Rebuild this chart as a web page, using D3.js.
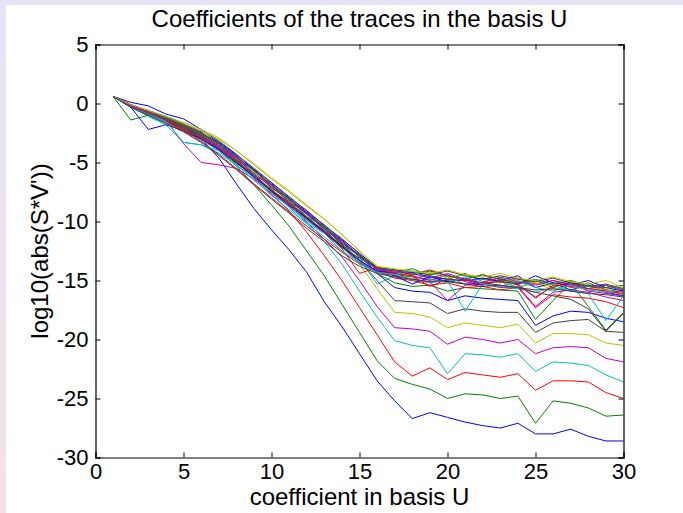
<!DOCTYPE html>
<html><head><meta charset="utf-8">
<script src="https://cdn.jsdelivr.net/npm/d3@7"></script>
<style>
html,body{margin:0;padding:0;background:#fff;}
svg{display:block;}
text{font-family:"Liberation Sans",Arial,Helvetica,sans-serif;fill:#000;}
</style></head><body>
<svg id="chart" width="683" height="513"></svg>
<script>
// ---- data ----
const title = "Coefficients of the traces in the basis U";
const xLabel = "coefficient in basis U";
const yLabel = "log10(abs(S*V'))";
const coefIndex = d3.range(1, 31);
const xTicks = [0, 5, 10, 15, 20, 25, 30];
const yTicks = [5, 0, -5, -10, -15, -20, -25, -30];
const colorOrder = ["#0000ff", "#008000", "#ff0000", "#00bfbf", "#bf00bf", "#bfbf00", "#404040"];

const t01 = [0.6,-0.2,-0.8,-1.4,-2.1,-3.0,-4.6,-6.8,-8.9,-10.7,-12.4,-14.3,-16.8,-18.9,-21.2,-23.5,-25.2,-26.7,-26.2,-26.6,-27.0,-27.3,-27.5,-27.1,-28.0,-28.0,-27.6,-28.2,-28.6,-28.6];
const t02 = [0.6,-0.2,-0.8,-1.4,-2.0,-2.8,-3.9,-5.3,-6.9,-8.6,-10.4,-12.5,-14.6,-17.0,-19.4,-21.8,-23.3,-23.8,-24.2,-25.0,-24.6,-24.7,-25.0,-24.8,-27.1,-25.2,-25.4,-25.8,-26.5,-26.4];
const t03 = [0.6,-0.1,-0.7,-1.2,-1.9,-2.7,-3.7,-4.9,-6.3,-7.7,-9.1,-10.9,-12.9,-15.0,-17.3,-19.6,-21.9,-23.1,-22.4,-23.4,-22.8,-23.0,-23.2,-22.9,-24.3,-23.5,-23.5,-23.6,-24.5,-25.0];
const t04 = [0.6,-0.3,-0.9,-1.6,-2.2,-2.8,-3.6,-4.8,-6.0,-7.4,-8.8,-10.2,-11.7,-13.6,-15.9,-18.1,-20.1,-20.5,-20.7,-22.9,-21.2,-21.3,-21.5,-21.2,-22.7,-21.9,-22.0,-22.2,-23.0,-23.6];
const t05 = [0.6,-0.1,-0.7,-1.3,-2.0,-2.7,-3.7,-4.8,-6.1,-7.4,-8.7,-10.0,-11.5,-13.0,-15.0,-17.2,-19.0,-19.1,-19.3,-20.4,-19.8,-20.0,-20.3,-20.0,-21.2,-20.7,-20.6,-20.7,-21.6,-21.9];
const t06 = [0.6,-0.2,-0.8,-1.3,-1.9,-2.6,-3.5,-4.6,-5.8,-7.1,-8.3,-9.6,-10.8,-12.1,-13.6,-15.7,-17.7,-17.8,-18.1,-19.0,-18.6,-18.8,-19.0,-18.7,-20.3,-19.5,-19.5,-19.6,-20.3,-20.5];
const t07 = [0.6,-0.2,-0.7,-1.2,-1.8,-2.5,-3.4,-4.5,-5.7,-6.9,-8.1,-9.3,-10.6,-11.9,-13.3,-15.0,-16.7,-16.8,-16.9,-17.8,-17.4,-17.6,-17.7,-17.7,-19.4,-18.6,-18.4,-18.3,-19.3,-19.4];
const t08 = [0.6,-0.1,-0.6,-1.1,-1.7,-2.4,-3.3,-4.4,-5.6,-6.8,-8.0,-9.2,-10.4,-11.6,-12.9,-14.4,-15.6,-15.9,-16.0,-16.7,-16.3,-16.5,-16.6,-16.7,-18.8,-18.0,-17.6,-17.7,-18.2,-18.5];
const t09 = [0.6,-0.2,-0.9,-1.5,-2.1,-2.9,-3.8,-4.9,-6.1,-7.3,-8.4,-9.6,-10.8,-12.0,-13.2,-14.4,-15.2,-15.5,-15.4,-15.9,-15.6,-15.7,-15.8,-15.9,-18.3,-16.7,-15.2,-17.2,-19.2,-17.7];
const t10 = [0.6,-0.3,-1.0,-1.6,-2.3,-3.0,-3.9,-5.0,-6.2,-7.4,-8.5,-9.7,-10.9,-12.1,-13.5,-14.2,-14.8,-15.0,-15.4,-15.2,-15.6,-15.5,-15.8,-15.6,-17.3,-16.2,-16.4,-16.5,-16.8,-17.3];
const t11 = [0.6,-0.3,-1.1,-1.8,-3.3,-3.5,-4.2,-5.2,-6.3,-7.5,-8.7,-9.9,-11.0,-12.2,-13.2,-15.3,-14.6,-14.9,-15.2,-15.0,-17.6,-15.3,-15.5,-15.7,-16.0,-15.6,-15.9,-16.1,-18.4,-16.3];
const t12 = [0.6,-0.2,-0.8,-1.4,-3.4,-5.0,-5.2,-5.5,-6.4,-7.6,-8.7,-9.8,-11.0,-12.2,-13.4,-14.3,-14.6,-14.9,-15.1,-16.7,-15.4,-15.3,-15.6,-15.5,-17.2,-16.0,-15.8,-16.0,-16.4,-16.7];
const t13 = [0.6,-0.1,-0.7,-1.2,-1.8,-2.5,-3.1,-4.3,-5.8,-6.7,-8.1,-9.0,-10.5,-11.4,-12.8,-13.9,-14.4,-14.9,-14.5,-15.2,-14.8,-15.3,-14.9,-15.6,-15.2,-15.8,-15.3,-15.9,-15.7,-16.2];
const t14 = [0.6,-0.2,-0.9,-1.4,-2.0,-2.7,-3.6,-4.7,-5.9,-7.1,-8.2,-9.4,-10.6,-11.8,-13.0,-14.1,-14.5,-14.7,-14.9,-15.1,-15.3,-15.2,-15.4,-15.6,-16.0,-16.3,-16.6,-17.4,-19.3,-17.8];
const t15 = [0.6,0.1,-0.2,-0.9,-1.3,-2.2,-3.2,-4.3,-5.5,-6.7,-7.9,-9.1,-10.3,-11.5,-12.7,-13.9,-14.6,-15.3,-14.7,-15.1,-14.9,-15.4,-15.0,-14.6,-15.6,-15.2,-15.8,-15.4,-16.0,-16.3];
const t16 = [0.6,-1.4,-1.0,-1.5,-2.1,-2.8,-3.9,-5.1,-6.0,-7.5,-8.3,-9.8,-10.7,-12.2,-13.1,-14.0,-14.3,-14.0,-14.6,-14.9,-14.4,-15.1,-14.8,-15.3,-15.0,-15.6,-15.1,-15.7,-15.4,-15.9];
const t17 = [0.6,-0.2,-0.9,-1.5,-2.2,-2.9,-3.8,-4.9,-6.1,-7.3,-8.5,-9.7,-10.9,-12.3,-14.4,-13.9,-14.2,-14.5,-14.1,-14.6,-14.9,-14.5,-15.2,-14.8,-15.3,-15.0,-15.6,-15.2,-15.8,-16.0];
const t18 = [0.6,-0.3,-1.0,-1.6,-2.3,-3.1,-4.0,-5.3,-6.1,-7.8,-8.6,-10.1,-11.0,-12.5,-13.4,-14.2,-14.5,-14.9,-14.4,-14.7,-15.3,-14.8,-15.1,-15.6,-15.0,-15.4,-15.9,-15.3,-15.9,-16.2];
const t19 = [0.6,-0.1,-0.8,-1.3,-1.9,-2.6,-3.5,-4.6,-5.6,-7.0,-8.0,-9.4,-10.4,-11.8,-12.8,-14.1,-14.3,-14.6,-15.0,-14.5,-15.1,-15.4,-14.9,-15.4,-16.4,-15.5,-15.2,-15.9,-16.1,-16.3];
const t20 = [0.6,-0.2,-0.7,-1.2,-1.7,-2.3,-3.0,-4.0,-5.2,-6.4,-7.5,-8.7,-9.8,-11.1,-12.5,-13.8,-14.2,-14.6,-14.3,-14.8,-14.5,-14.9,-15.2,-14.8,-15.2,-15.5,-15.0,-15.5,-15.9,-15.6];
const t21 = [0.6,-0.1,-0.7,-1.2,-1.8,-2.5,-3.4,-4.5,-5.7,-6.9,-8.1,-9.3,-10.5,-11.7,-12.9,-13.9,-14.1,-14.3,-14.5,-14.2,-14.6,-14.9,-14.6,-14.9,-15.1,-14.8,-15.2,-15.5,-15.3,-15.7];
const t22 = [0.6,-0.3,-2.2,-1.8,-2.3,-3.0,-3.9,-5.0,-6.2,-7.4,-8.6,-9.7,-10.9,-12.1,-13.3,-14.2,-14.4,-14.3,-14.7,-14.9,-15.0,-14.8,-15.1,-15.3,-14.6,-15.2,-15.4,-15.0,-15.6,-15.9];
const t23 = [0.6,-0.2,-0.8,-1.3,-1.9,-2.6,-3.3,-4.8,-5.6,-7.2,-8.0,-9.6,-10.4,-12.0,-12.8,-14.0,-14.1,-14.5,-14.2,-14.6,-14.9,-14.5,-14.9,-15.2,-14.9,-15.3,-15.0,-15.5,-15.6,-15.4];
const t24 = [0.6,-0.1,-0.8,-1.5,-2.3,-3.2,-4.3,-5.5,-6.8,-8.0,-9.2,-10.4,-11.5,-12.6,-13.6,-14.3,-14.4,-14.6,-15.5,-14.9,-15.0,-15.2,-15.1,-15.3,-16.5,-15.4,-15.5,-15.7,-15.9,-16.1];
const t25 = [0.6,-0.2,-0.9,-1.5,-3.3,-3.5,-4.0,-5.2,-6.5,-7.8,-9.0,-10.2,-11.3,-12.5,-13.6,-14.3,-14.5,-14.2,-14.9,-15.2,-14.7,-15.3,-15.5,-15.0,-15.6,-15.9,-15.4,-15.8,-16.0,-15.7];
const t26 = [0.6,-0.2,-0.8,-1.4,-2.0,-2.7,-3.8,-4.5,-6.1,-6.9,-8.4,-9.2,-10.8,-11.6,-13.0,-14.0,-14.2,-14.4,-14.8,-14.4,-14.9,-15.2,-14.7,-15.1,-15.4,-15.0,-15.3,-15.7,-15.4,-15.8];
const t27 = [0.6,-0.1,-0.6,-1.1,-1.6,-2.2,-2.9,-4.0,-5.1,-6.3,-7.4,-8.6,-9.8,-11.1,-12.5,-13.8,-14.0,-14.2,-14.4,-14.1,-14.5,-14.7,-14.4,-14.8,-15.0,-14.7,-15.1,-15.3,-15.0,-15.6];
const t28 = [0.6,-0.3,-1.0,-1.7,-2.4,-3.3,-4.4,-5.6,-6.9,-8.1,-9.3,-10.6,-11.7,-12.9,-13.8,-14.4,-14.7,-14.9,-15.1,-15.0,-15.3,-15.5,-15.4,-15.6,-15.8,-15.7,-15.9,-16.1,-16.2,-16.4];

const traces = [t01,t02,t03,t04,t05,t06,t07,t08,t09,t10,t11,t12,t13,t14,t15,t16,t17,t18,t19,t20,t21,t22,t23,t24,t25,t26,t27,t28];

// ---- chart ----
(function draw() {
  const W = 683, H = 513;
  const svg = d3.select("#chart");

  const defs = svg.append("defs");
  const lg = defs.append("linearGradient").attr("id","side").attr("x1",0).attr("y1",0).attr("x2",0).attr("y2",1);
  lg.append("stop").attr("offset","0%").attr("stop-color","#e6e3f7");
  lg.append("stop").attr("offset","100%").attr("stop-color","#f6e1e8");
  defs.append("clipPath").attr("id","clip");
  svg.append("rect").attr("x",0).attr("y",0).attr("width",W).attr("height",H).attr("fill","#fff");
  svg.append("rect").attr("x",0).attr("y",0).attr("width",6).attr("height",H).attr("fill","url(#side)");
  svg.append("rect").attr("x",0).attr("y",0).attr("width",W).attr("height",5).attr("fill","#e7e4f8");

  const pL = 95.5, pR = 623.5, pT = 44.5, pB = 457.5;
  const x = d3.scaleLinear().domain([0, 30]).range([pL, pR]);
  const y = d3.scaleLinear().domain([-30, 5]).range([pB, pT]);

  svg.select("#clip").append("rect").attr("x",pL).attr("y",pT).attr("width",pR-pL).attr("height",pB-pT);

  const line = d3.line().x((d,i) => x(coefIndex[i])).y(d => y(d));
  const lines = svg.append("g").attr("clip-path","url(#clip)");
  traces.forEach((tr, i) => {
    lines.append("path").datum(tr)
      .attr("d", line)
      .attr("fill","none")
      .attr("stroke", colorOrder[i % colorOrder.length])
      .attr("stroke-width", 1)
      .attr("stroke-linejoin","round");
  });

  const tickLen = 5;
  const fontSize = 22;
  const fmt = d => String(d);
  const axB = svg.append("g").attr("transform",`translate(0,${pB})`)
    .call(d3.axisBottom(x).tickValues(xTicks).tickSize(-tickLen).tickPadding(6).tickFormat(fmt));
  const axT = svg.append("g").attr("transform",`translate(0,${pT})`)
    .call(d3.axisTop(x).tickValues(xTicks).tickSize(-tickLen).tickFormat(""));
  const axL = svg.append("g").attr("transform",`translate(${pL},0)`)
    .call(d3.axisLeft(y).tickValues(yTicks).tickSize(-tickLen).tickPadding(7).tickFormat(fmt));
  const axR = svg.append("g").attr("transform",`translate(${pR},0)`)
    .call(d3.axisRight(y).tickValues(yTicks).tickSize(-tickLen).tickFormat(""));
  [axB, axT, axL, axR].forEach(a => {
    a.selectAll(".domain").attr("stroke","#000").attr("stroke-width",1.2);
    a.selectAll(".tick line").attr("stroke","#000").attr("stroke-width",1);
    a.selectAll("text").attr("font-size", fontSize).attr("font-family","Liberation Sans, Arial, sans-serif").attr("fill","#000");
  });

  svg.append("text").attr("x",(pL+pR)/2).attr("y",27).attr("text-anchor","middle")
    .attr("font-size",24).text(title);
  svg.append("text").attr("x",(pL+pR)/2).attr("y",505).attr("text-anchor","middle")
    .attr("font-size",24).text(xLabel);
  svg.append("text").attr("transform",`translate(48,${(pT+pB)/2}) rotate(-90)`).attr("text-anchor","middle")
    .attr("font-size",24).text(yLabel);
})();
</script>
</body></html>
